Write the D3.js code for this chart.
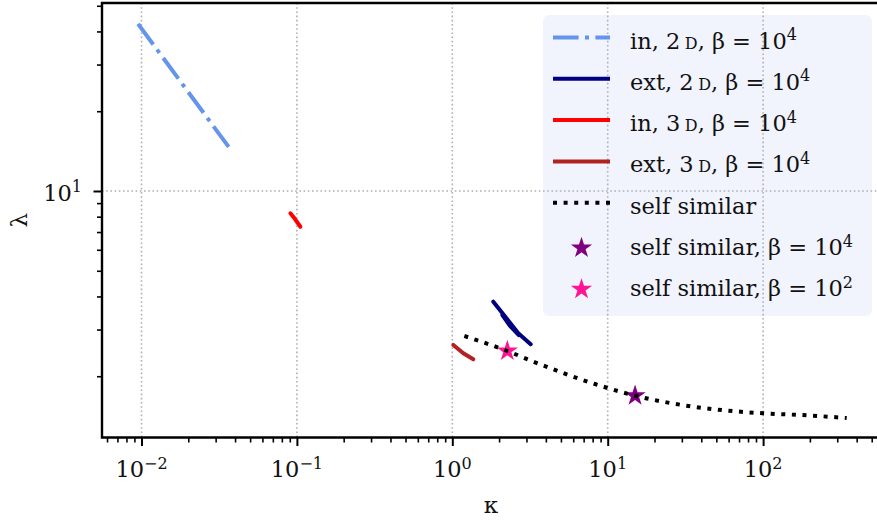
<!DOCTYPE html>
<html>
<head>
<meta charset="utf-8">
<script src="https://cdn.jsdelivr.net/npm/d3@7"></script>
<style>
  html, body { margin: 0; padding: 0; background: #fff; }
  svg { display: block; }
  text { font-family: "DejaVu Serif", "Liberation Serif", serif; fill: #111; }
</style>
</head>
<body>
<svg id="chart" width="877" height="521"></svg>
<script>
// ---------- data ----------
const in2dKappa  = [0.0095, 0.0135, 0.019, 0.027, 0.0379];
const in2dLambda = [42.7, 32.3, 24.6, 18.6, 14.2];

const ext2dKappa  = [1.836, 2.199, 2.658, 3.195];
const ext2dLambda = [3.822, 3.344, 2.904, 2.640];
const ext2dBKappa  = [2.10, 2.351, 2.68];
const ext2dBLambda = [3.40, 3.10, 2.86];

const in3dKappa  = [0.0908, 0.097, 0.1053];
const in3dLambda = [8.24, 7.85, 7.33];

const ext3dKappa  = [1.015, 1.177, 1.365];
const ext3dLambda = [2.624, 2.441, 2.317];

const selfSimKappa  = [1.195, 2.26, 3.41, 8.28, 15, 32.2, 100, 191, 345];
const selfSimLambda = [2.837, 2.49, 2.257, 1.869, 1.689, 1.548, 1.449, 1.424, 1.391];

const star1e4 = [15, 1.689];   // self similar, beta = 1e4
const star1e2 = [2.26, 2.49];  // self similar, beta = 1e2

const xMajorExp = [-2, -1, 0, 1, 2];
const yMajorExp = [1];
const xDomainExp = [-2.2542, 2.7651];
const yDomainExp = [0.0698, 1.7094];

const legendLabels = [
  {pre: "in, 2\u2009", sc: "d", post: ", β = 10", sup: "4"},
  {pre: "ext, 2\u2009", sc: "d", post: ", β = 10", sup: "4"},
  {pre: "in, 3\u2009", sc: "d", post: ", β = 10", sup: "4"},
  {pre: "ext, 3\u2009", sc: "d", post: ", β = 10", sup: "4"},
  {pre: "self similar", sc: "", post: "", sup: ""},
  {pre: "self similar, β = 10", sc: "", post: "", sup: "4"},
  {pre: "self similar, β = 10", sc: "", post: "", sup: "2"}
];

// ---------- layout ----------
const L = 102, R = 882, T = 3, B = 437.5;
const svg = d3.select("#chart");

const x = d3.scaleLog().domain(xDomainExp.map(e => Math.pow(10, e))).range([L, R]);
const y = d3.scaleLog().domain(yDomainExp.map(e => Math.pow(10, e))).range([B, T]);

const xMajors = xMajorExp.map(e => Math.pow(10, e));
const yMajors = yMajorExp.map(e => Math.pow(10, e));
const xMinors = [];
for (let e = -3; e <= 2; e++) for (let m = 2; m <= 9; m++) {
  const v = m * Math.pow(10, e);
  if (v > x.domain()[0] && v < x.domain()[1]) xMinors.push(v);
}
const yMinors = [];
for (let e = 0; e <= 1; e++) for (let m = 2; m <= 9; m++) {
  const v = m * Math.pow(10, e);
  if (v > y.domain()[0] && v < y.domain()[1]) yMinors.push(v);
}

// ---------- legend box (below grid) ----------
const LX = 543, LY = 15, LW = 329, LH = 301;
svg.append("rect").attr("x", LX).attr("y", LY).attr("width", LW).attr("height", LH)
  .attr("rx", 6).attr("fill", "#F1F4FC");

// ---------- grid ----------
const grid = svg.append("g").attr("stroke", "#b0b0b0").attr("stroke-width", 1.6)
  .attr("stroke-dasharray", "1.6,2.6");
grid.selectAll("line.gx").data(xMajors).join("line")
  .attr("x1", d => x(d)).attr("x2", d => x(d)).attr("y1", T).attr("y2", B);
grid.selectAll("line.gy").data(yMajors).join("line")
  .attr("x1", L).attr("x2", R).attr("y1", d => y(d)).attr("y2", d => y(d));

// ---------- data lines ----------
const line = d3.line().x(d => x(d[0])).y(d => y(d[1]));
const zip = (a, b) => a.map((v, i) => [v, b[i]]);

function drawLine(data, color, width, dash) {
  svg.append("path").datum(data).attr("d", line)
    .attr("fill", "none").attr("stroke", color).attr("stroke-width", width)
    .attr("stroke-dasharray", dash || null)
    .attr("stroke-linejoin", "round")
    .attr("stroke-linecap", dash ? "butt" : "round");
}
drawLine(zip(in2dKappa, in2dLambda), "#6495ED", 4, "25.6,6.4,4,6.4");
drawLine(zip(ext2dKappa, ext2dLambda), "#000080", 4);
drawLine(zip(ext2dBKappa, ext2dBLambda), "#000080", 4);
drawLine(zip(in3dKappa, in3dLambda), "#FF0000", 4);
drawLine(zip(ext3dKappa, ext3dLambda), "#B22222", 4);

const star = d3.symbol().type(d3.symbolStar).size(140);
svg.append("path").attr("d", star).attr("fill", "#800080")
  .attr("transform", `translate(${x(star1e4[0])},${y(star1e4[1])})`);
svg.append("path").attr("d", star).attr("fill", "#FF1493")
  .attr("transform", `translate(${x(star1e2[0])},${y(star1e2[1])})`);

svg.append("path").datum(zip(selfSimKappa, selfSimLambda))
  .attr("d", line.curve(d3.curveMonotoneX))
  .attr("fill", "none").attr("stroke", "#000").attr("stroke-width", 4)
  .attr("stroke-dasharray", "4,6.6");
line.curve(d3.curveLinear);

// ---------- axes ----------
const ax = svg.append("g");
ax.append("g").attr("transform", `translate(0,${B})`)
  .call(d3.axisBottom(x).tickValues(xMinors).tickSize(5).tickFormat(""))
  .call(g => { g.select(".domain").remove(); g.selectAll("line").attr("stroke", "#000").attr("stroke-width", 1.6); });
ax.append("g").attr("transform", `translate(0,${B})`)
  .call(d3.axisBottom(x).tickValues(xMajors).tickSize(8.5).tickFormat(""))
  .call(g => { g.select(".domain").remove(); g.selectAll("line").attr("stroke", "#000").attr("stroke-width", 2); });
ax.append("g").attr("transform", `translate(${L},0)`)
  .call(d3.axisLeft(y).tickValues(yMinors).tickSize(5).tickFormat(""))
  .call(g => { g.select(".domain").remove(); g.selectAll("line").attr("stroke", "#000").attr("stroke-width", 1.6); });
ax.append("g").attr("transform", `translate(${L},0)`)
  .call(d3.axisLeft(y).tickValues(yMajors).tickSize(8.5).tickFormat(""))
  .call(g => { g.select(".domain").remove(); g.selectAll("line").attr("stroke", "#000").attr("stroke-width", 2); });

// spines
svg.append("path").attr("d", `M${R},${T}H${L}V${B}H${R}`)
  .attr("fill", "none").attr("stroke", "#000").attr("stroke-width", 2.4);

// tick labels
const FS = 22.5, SUPFS = 16;
xMajorExp.forEach(e => {
  const t = svg.append("text").attr("x", x(Math.pow(10, e))).attr("y", 477)
    .attr("text-anchor", "middle").attr("font-size", FS);
  t.append("tspan").text("10");
  t.append("tspan").attr("font-size", SUPFS).attr("dy", -8.5).text(e < 0 ? "\u2212" + (-e) : String(e));
});
yMajorExp.forEach(e => {
  const t = svg.append("text").attr("x", 82).attr("y", y(Math.pow(10, e)) + 10)
    .attr("text-anchor", "end").attr("font-size", FS);
  t.append("tspan").text("10");
  t.append("tspan").attr("font-size", SUPFS).attr("dy", -8.5).text(String(e));
});

// axis labels
svg.append("text").attr("x", 491).attr("y", 513).attr("text-anchor", "middle")
  .attr("font-size", 23).text("κ");
svg.append("text").attr("transform", `translate(27,${(T + B) / 2}) rotate(-90)`)
  .attr("text-anchor", "middle").attr("font-size", 23).text("λ");

// ---------- legend content ----------
const baseY = 48.5, step = 41.3, hx0 = 553, hx1 = 610, tx = 630;
const handles = [
  {type: "line", color: "#6495ED", dash: "25.6,6.4,4,6.4"},
  {type: "line", color: "#000080"},
  {type: "line", color: "#FF0000"},
  {type: "line", color: "#B22222"},
  {type: "line", color: "#000", dash: "4,6.6"},
  {type: "star", color: "#800080"},
  {type: "star", color: "#FF1493"}
];
legendLabels.forEach((lab, i) => {
  const by = baseY + step * i;
  const h = handles[i];
  if (h.type === "line") {
    svg.append("line").attr("x1", hx0).attr("x2", hx1).attr("y1", by - 11).attr("y2", by - 11)
      .attr("stroke", h.color).attr("stroke-width", 4).attr("stroke-dasharray", h.dash || null);
  } else {
    svg.append("path").attr("d", star).attr("fill", h.color)
      .attr("transform", `translate(${(hx0 + hx1) / 2},${by - 7})`);
  }
  const t = svg.append("text").attr("x", tx).attr("y", by).attr("font-size", FS);
  t.append("tspan").text(lab.pre);
  if (lab.sc) t.append("tspan").attr("font-variant", "small-caps").text(lab.sc);
  if (lab.post) t.append("tspan").text(lab.post);
  if (lab.sup) t.append("tspan").attr("font-size", SUPFS).attr("dy", -8.5).text(lab.sup);
});
</script>
</body>
</html>
